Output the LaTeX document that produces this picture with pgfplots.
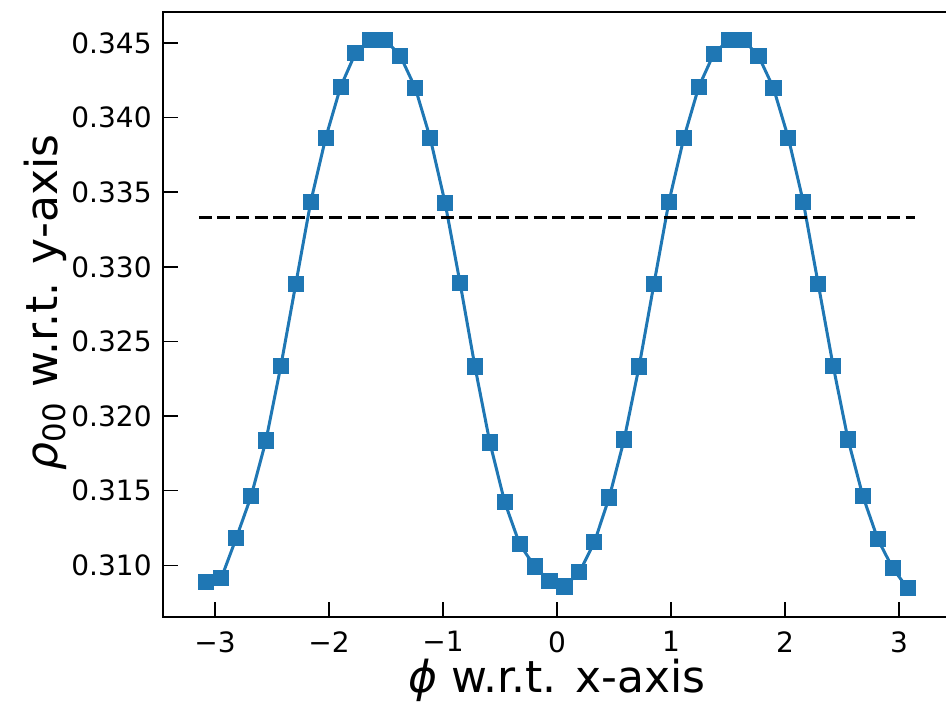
\documentclass[border=0pt]{standalone}
\usepackage{fontspec}
\setmainfont{DejaVu Sans}
\usepackage{pgfplots}
\pgfplotsset{compat=1.18}
\definecolor{mplblue}{HTML}{1F77B4}

\begin{document}
\begin{tikzpicture}
\begin{axis}[
  at={(0,0)}, anchor=south west,
  scale only axis, width=394pt, height=302.5pt,
  xmin=-3.4558, xmax=3.4558,
  ymin=0.30654, ymax=0.34707,
  xtick={-3,-2,-1,0,1,2,3},
  xticklabels={−3,−2,−1,0,1,2,3},
  ytick={0.310,0.315,0.320,0.325,0.330,0.335,0.340,0.345},
  yticklabels={0.310,0.315,0.320,0.325,0.330,0.335,0.340,0.345},
  minor tick num=0,
  tick align=inside, tick pos=left,
  major tick length=7.5pt,
  every tick/.style={black, line width=0.7pt},
  axis line style={black, line width=1.1pt},
  tick label style={font=\fontsize{14}{16}\selectfont},
  xticklabel style={inner sep=0pt, yshift=-7pt},
  yticklabel style={inner sep=0pt, xshift=-5.5pt},
  label style={font=\fontsize{22}{25}\selectfont},
  xlabel={\textit{ϕ} w.r.t. x-axis},
  ylabel={\textit{ρ}\textsubscript{00} w.r.t. y-axis},
  xlabel style={at={(axis description cs:0.5,-0.124)}, anchor=base, inner sep=0pt},
  ylabel style={at={(axis description cs:-0.1345,0.52)}, anchor=base, inner sep=0pt},
]
\addplot[mplblue, line width=1.5pt, mark=square*, mark size=3.8pt,
  mark options={solid, fill=mplblue, draw=mplblue, line width=0pt}]
  table[row sep=\\] {
x y\\
-3.0761 0.30886\\
-2.9452 0.30913\\
-2.8143 0.31181\\
-2.6834 0.31462\\
-2.5525 0.31837\\
-2.4216 0.32338\\
-2.2907 0.32887\\
-2.1598 0.33436\\
-2.0289 0.33864\\
-1.8980 0.34206\\
-1.7671 0.34433\\
-1.6362 0.34520\\
-1.5053 0.34520\\
-1.3744 0.34413\\
-1.2435 0.34199\\
-1.1126 0.33864\\
-0.9817 0.33429\\
-0.8508 0.32894\\
-0.7199 0.32332\\
-0.5890 0.31823\\
-0.4581 0.31422\\
-0.3272 0.31141\\
-0.1963 0.30993\\
-0.0654 0.30893\\
0.0654 0.30859\\
0.1963 0.30953\\
0.3272 0.31154\\
0.4581 0.31455\\
0.5890 0.31843\\
0.7199 0.32332\\
0.8508 0.32887\\
0.9817 0.33436\\
1.1126 0.33864\\
1.2435 0.34206\\
1.3744 0.34426\\
1.5053 0.34520\\
1.6362 0.34520\\
1.7671 0.34413\\
1.8980 0.34199\\
2.0289 0.33864\\
2.1598 0.33436\\
2.2907 0.32887\\
2.4216 0.32338\\
2.5525 0.31843\\
2.6834 0.31462\\
2.8143 0.31174\\
2.9452 0.30980\\
3.0761 0.30846\\
};
\addplot[black, line width=1.5pt, dash pattern=on 6.5pt off 2.8pt]
  coordinates {(-3.1416,0.33333) (3.1416,0.33333)};
\end{axis}
\pgfresetboundingbox
\useasboundingbox (-81.5pt,-42.5pt) rectangle (391.5pt,308.5pt);
\end{tikzpicture}
\end{document}
